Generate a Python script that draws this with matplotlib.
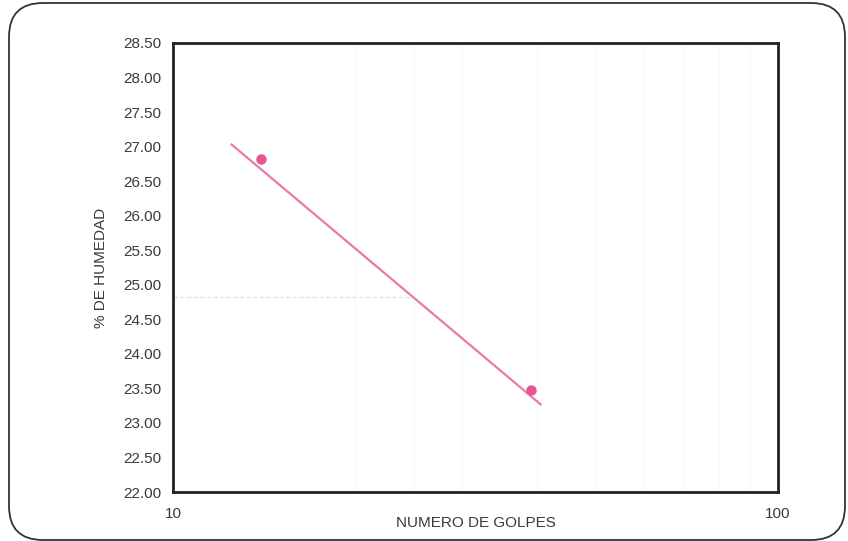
import numpy as np
import matplotlib.pyplot as plt
from matplotlib.patches import FancyBboxPatch
from matplotlib.ticker import FixedLocator, NullFormatter

plt.rcParams['font.family'] = ['Liberation Sans', 'DejaVu Sans']

# ensayo de limite liquido
golpes = [14, 39]
humedad = [26.82, 23.47]

# recta de tendencia (extremos)
tend_x = [12.5, 40.5]
tend_y = [27.03, 23.27]

# lectura a 25 golpes
n25 = 25
w25 = 24.83

y_ticks = np.arange(22.0, 28.51, 0.5)

fig = plt.figure(figsize=(8.48, 5.41), dpi=100)
fig.patch.set_facecolor('white')

# marco redondeado de la hoja
frame = FancyBboxPatch((9 / 848, 1 / 541), 836 / 848, 537 / 541,
                       boxstyle="round,pad=0,rounding_size=0.04",
                       transform=fig.transFigure, fill=False,
                       edgecolor='#333333', linewidth=1.3,
                       mutation_aspect=848 / 541)
fig.patches.append(frame)

ax = fig.add_axes([173 / 848, 1 - 492 / 541, 605 / 848, 449 / 541])
ax.set_xscale('log')
ax.set_xlim(10, 100)
ax.set_ylim(22.0, 28.5)

# rejilla tenue
for gx in range(20, 100, 10):
    ax.axvline(gx, color='#f3f3f3', lw=0.8, ls=':', zorder=0)
ax.plot([10, n25], [w25, w25], color='#e0e0e0', lw=0.9, ls='--', zorder=1)
ax.axvline(n25, color='#ededed', lw=0.8, ls=':', zorder=1)

ax.plot(tend_x, tend_y, color='#e879ab', lw=1.6, zorder=3)
ax.plot(golpes, humedad, 'o', color='#e85592', ms=6.5, zorder=4)

ax.set_yticks(y_ticks)
ax.set_yticklabels([f'{v:.2f}' for v in y_ticks])
ax.xaxis.set_major_locator(FixedLocator([10, 100]))
ax.set_xticklabels(['10', '100'])
ax.xaxis.set_minor_formatter(NullFormatter())
ax.tick_params(axis='both', which='both', length=0, labelsize=11,
               colors='#3a3a3a')
ax.tick_params(axis='y', pad=8.5)
ax.tick_params(axis='x', pad=10.5)

for s in ax.spines.values():
    s.set_linewidth(2.0)
    s.set_color('#222222')

ax.set_xlabel('NUMERO DE GOLPES', fontsize=11, color='#3a3a3a', labelpad=-3)
ax.set_ylabel('% DE HUMEDAD', fontsize=11, color='#3a3a3a', labelpad=11)

fig.savefig('out.png', dpi=100)
